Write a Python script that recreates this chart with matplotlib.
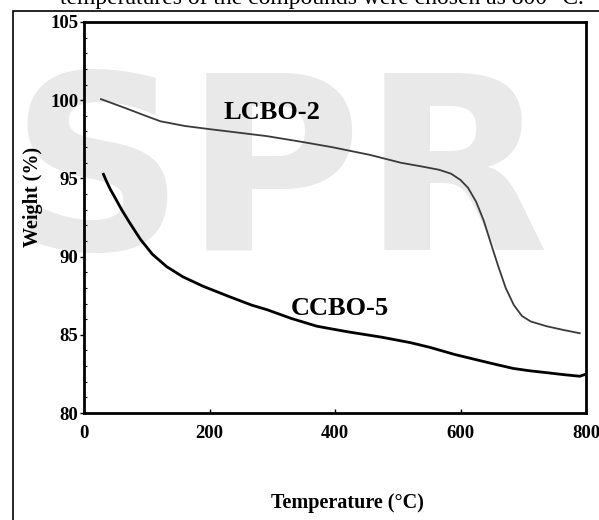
import matplotlib
matplotlib.use("Agg")
import matplotlib.pyplot as plt
from matplotlib.patches import Rectangle
from matplotlib.ticker import MultipleLocator

# TGA curves (temperature in C, weight in %)
lcbo_temp = [27, 67, 95, 122, 161, 200, 241, 292, 345, 395, 456, 505, 540, 566,
             585, 600, 612, 625, 637, 648, 660, 672, 685, 698, 712, 737, 765, 790]
lcbo_weight = [100.07, 99.48, 99.05, 98.65, 98.35, 98.15, 97.95, 97.70, 97.35,
               97.00, 96.50, 96.00, 95.75, 95.55, 95.30, 94.90, 94.40, 93.50,
               92.30, 90.90, 89.40, 88.00, 86.90, 86.20, 85.85, 85.55, 85.30, 85.10]

ccbo_temp = [31, 36, 42, 49, 60, 73, 90, 109, 132, 158, 190, 231, 267, 292, 330,
             371, 419, 474, 520, 551, 590, 631, 657, 684, 710, 737, 765, 790, 801]
ccbo_weight = [95.26, 94.80, 94.30, 93.80, 93.00, 92.15, 91.10, 90.15, 89.35,
               88.70, 88.10, 87.45, 86.90, 86.60, 86.05, 85.55, 85.20, 84.85,
               84.50, 84.20, 83.75, 83.35, 83.10, 82.85, 82.70, 82.58, 82.45,
               82.35, 82.50]

x_ticks = [0, 200, 400, 600, 800]
y_ticks = [80, 85, 90, 95, 100, 105]

serif = "Liberation Serif"

fig = plt.figure(figsize=(5.99, 5.20), dpi=100)
W, H = 599.0, 520.0

# pale watermark behind the chart
fig.text(280 / W, 1 - 250 / H, "SPR", fontsize=175, fontweight="bold",
         family="DejaVu Sans", color="#e9e9e9", ha="center", va="baseline",
         zorder=-2)

# caption line of the page, cut off at the top edge
fig.text(584 / W, 1 - 4 / H, "temperatures of the compounds were chosen as 800 \u00b0C.",
         fontsize=17, family=serif, ha="right", va="baseline", color="black")

# outer frame of the figure box
fig.patches.append(Rectangle((12.5 / W, -0.1), 1.2, 1.1 - 11 / H,
                             transform=fig.transFigure, fill=False,
                             edgecolor="black", linewidth=1.2))

ax = fig.add_axes([84 / W, 1 - 413 / H, 502 / W, 391 / H])
ax.patch.set_alpha(0)

ax.plot(lcbo_temp, lcbo_weight, color="#3a3a3a", linewidth=1.3)
ax.plot(ccbo_temp, ccbo_weight, color="black", linewidth=2.0)

ax.set_xlim(0, 800)
ax.set_ylim(80, 105)
ax.set_xticks(x_ticks)
ax.set_yticks(y_ticks)
ax.yaxis.set_minor_locator(MultipleLocator(1))

for s in ax.spines.values():
    s.set_linewidth(2.0)

ax.tick_params(axis="y", which="major", direction="out", length=3, width=1, pad=1)
ax.tick_params(axis="y", which="minor", direction="in", length=2, width=0.8)
ax.tick_params(axis="x", which="major", direction="in", length=3, width=1, pad=9)
for lab in ax.get_xticklabels() + ax.get_yticklabels():
    lab.set_family(serif)
    lab.set_fontweight("bold")
    lab.set_fontsize(13.5)

ax.text(300, 99.2, "LCBO-2", fontsize=19, fontweight="bold", family=serif,
        ha="center", va="center")
ax.text(408, 86.7, "CCBO-5", fontsize=19, fontweight="bold", family=serif,
        ha="center", va="center")

fig.text(347 / W, 1 - 503 / H, "Temperature (\u00b0C)", fontsize=14.5,
         fontweight="bold", family=serif, ha="center", va="center")
fig.text(33 / W, 1 - 197 / H, "Weight (%)", fontsize=14.5, fontweight="bold",
         family=serif, ha="center", va="center", rotation=90)

fig.savefig("out.png", dpi=100)
